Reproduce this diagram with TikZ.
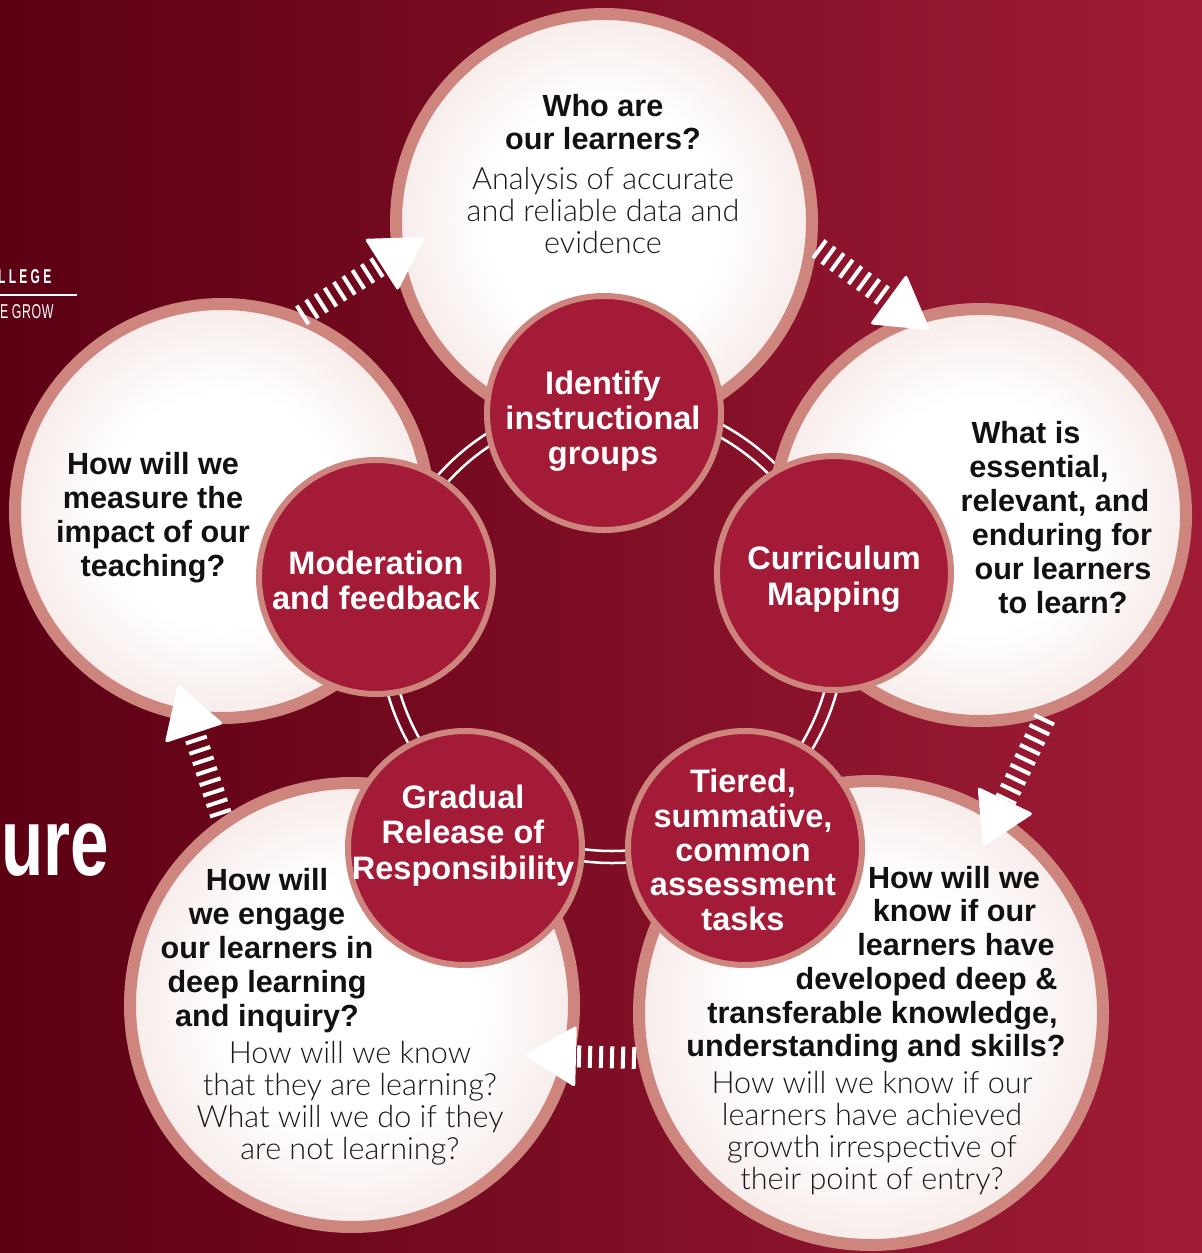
\documentclass[tikz,border=0pt]{standalone}
\usepackage{fontspec}
\setmainfont{Liberation Sans}
\newfontfamily\lightfont{Lato Light}
\usetikzlibrary{calc}
\definecolor{bgL}{HTML}{5C0013}
\definecolor{bgR}{HTML}{A01C36}
\definecolor{rose}{HTML}{CD857E}
\definecolor{crimson}{HTML}{A41B37}
\definecolor{glowedge}{HTML}{E4C0BB}
\definecolor{qtext}{HTML}{111111}
\definecolor{ltext}{HTML}{1A1A1A}
\pgfdeclareradialshading{glow}{\pgfpoint{0bp}{0bp}}{color(0bp)=(white); color(14bp)=(white); color(50bp)=(glowedge)}
\newcommand\flowarrow[2]{%
  \coordinate (#1b) at ($(#2)!52pt!(#1)$);
  \draw[stripes] (#1) -- (#1b);
  \fill[white, rounded corners=3pt] (#2) -- ($(#1b)!31pt!90:(#2)$) -- ($(#1b)!31pt!-90:(#2)$) -- cycle;}
\begin{document}
\begin{tikzpicture}[x=1pt,y=-1pt,
  stripes/.style={white, line width=22pt, dash pattern=on 4pt off 7pt},
  outerc/.style={circle, inner sep=0pt, draw=rose, line width=12pt, shade, shading=glow, minimum size=#1},
  innerc/.style={circle, inner sep=0pt, draw=rose, line width=6pt, fill=crimson, minimum size=234pt},
  qb/.style={font=\fontsize{30.6}{34}\selectfont\bfseries, text=qtext, align=center, inner sep=0pt, anchor=base},
  lt/.style={font=\fontsize{30.6}{32}\lightfont, text=ltext, align=center, inner sep=0pt, anchor=base},
  ib/.style={font=\fontsize{32.5}{35}\selectfont\bfseries, text=white, align=center, inner sep=0pt, anchor=base}]
\useasboundingbox (0,0) rectangle (1202,1253);
\clip (0,0) rectangle (1202,1253);
\shade[left color=bgL, right color=bgR] (0,0) rectangle (1202,1253);

% partial texts at left edge
\node[font=\fontsize{20}{20}\selectfont\bfseries, text=white, anchor=base west, inner sep=0pt, xscale=0.6] (coll) at (-2,283) {L\hspace{5.5pt}L\hspace{5.5pt}E\hspace{5.5pt}G\hspace{5.5pt}E};
\draw[white, line width=2pt] (0,295) -- (77,295);
\node[font=\fontsize{20}{20}\selectfont, text=white, anchor=base west, inner sep=0pt, xscale=0.62] (grow) at (0,318) {E G\hspace{1pt}R\hspace{1pt}O\hspace{1pt}W};
\node[font=\fontsize{96}{96}\selectfont\bfseries, text=white, anchor=base west, inner sep=0pt, xscale=0.72] (ure) at (1,875) {ure};

% double ring linking the inner circles
\coordinate (ringc) at (612,630);
\draw[white, line width=2.5pt] (ringc) circle[radius=221] (ringc) circle[radius=233];

% outer question circles
\node[outerc=416pt] (qtop) at (604,222) {};
\node[outerc=414pt] (qleft) at (222,511) {};
\node[outerc=412pt] (qright) at (980,515) {};
\node[outerc=464pt] (qbr) at (871,1013) {};
\node[outerc=444pt] (qbl) at (352,1005) {};

% inner stage circles
\node[innerc] (ident) at (604,413) {};
\node[innerc] (curr) at (834,573) {};
\node[innerc] (tier) at (745,848) {};
\node[innerc] (grad) at (465,848) {};
\node[innerc] (moder) at (376,577) {};

% flow arrows
\coordinate (a1) at (301,316); \coordinate (t1) at (425,237);
\coordinate (a2) at (818,248); \coordinate (t2) at (930,330);
\coordinate (a3) at (1045,718); \coordinate (t3) at (983,847);
\coordinate (a4) at (636,1058); \coordinate (t4) at (524,1055);
\coordinate (a5) at (221,815); \coordinate (t5) at (178,684);
\flowarrow{a1}{t1}
\flowarrow{a2}{t2}
\flowarrow{a3}{t3}
\flowarrow{a4}{t4}
\flowarrow{a5}{t5}

% inner texts (anchor = baseline of last line)
\node[ib] (identT) at (603,464) {Identify\\instructional\\groups};
\node[ib, font=\fontsize{32.5}{36}\selectfont\bfseries] (currT) at (834,605) {Curriculum\\Mapping};
\node[ib] (moderT) at (376,609) {Moderation\\and feedback};
\node[ib, font=\fontsize{32.5}{35.5}\selectfont\bfseries] (gradT) at (463,879) {Gradual\\Release of\\Responsibility};
\node[ib, font=\fontsize{32.5}{34.3}\selectfont\bfseries] (tierT) at (743,930) {Tiered,\\summative,\\common\\assessment\\tasks};

% top circle
\node[qb, font=\fontsize{30.6}{33}\selectfont\bfseries] (topQ) at (603,149) {Who are\\our learners?};
\node[lt] (topL) at (603,253) {Analysis of accurate\\and reliable data and\\evidence};

% left circle
\node[qb] (leftQ) at (153,576) {How will we\\measure the\\impact of our\\teaching?};

% right circle
\foreach \x/\y/\t [count=\i] in {1026/443/What is, 1039/477/{essential,}, 1055/511/{relevant, and}, 1062/545/enduring for, 1063/579/our learners, 1063/613/to learn?}
  \node[qb] (rQ\i) at (\x,\y) {\t};

% bottom-right circle
\foreach \x/\y/\t [count=\i] in {954/888/How will we, 954.5/921/know if our, 956/955/learners have, 926.5/989/developed deep \&, 882.5/1023/{transferable knowledge,}, 876/1056/understanding and skills?}
  \node[qb] (brQ\i) at (\x,\y) {\t};
\node[lt] (brL) at (872,1189) {How will we know if our\\learners have achieved\\growth irrespective of\\their point of entry?};

% bottom-left circle
\node[qb, font=\fontsize{30.6}{33.8}\selectfont\bfseries] (blQ) at (267,1026) {How will\\we engage\\our learners in\\deep learning\\and inquiry?};
\node[lt] (blL) at (350,1159) {How will we know\\that they are learning?\\What will we do if they\\are not learning?};
\end{tikzpicture}
\end{document}
